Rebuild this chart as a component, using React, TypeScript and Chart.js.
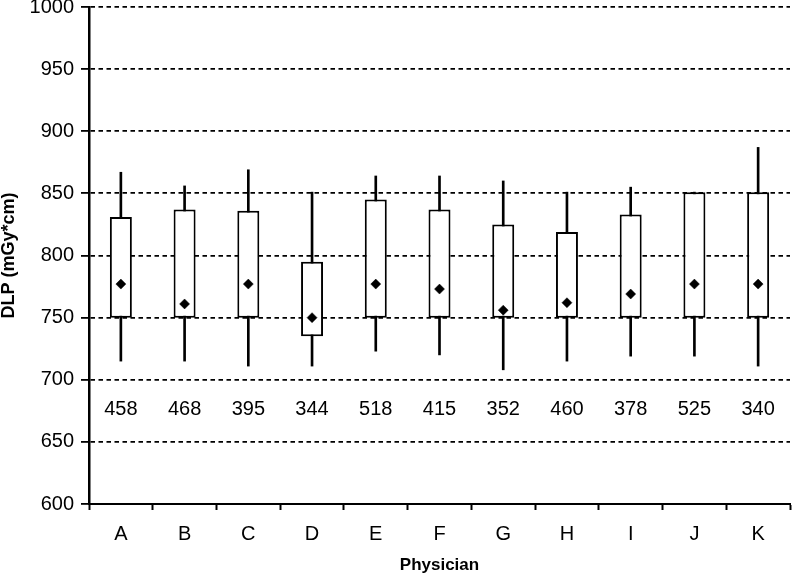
import { useEffect, useRef } from 'react'
import { Chart, registerables } from 'chart.js'

Chart.register(...registerables)

const physicians = ['A', 'B', 'C', 'D', 'E', 'F', 'G', 'H', 'I', 'J', 'K']
const whiskerLow = [715, 715, 711, 711, 723, 720, 708, 715, 719, 719, 711]
const boxLow = [750, 750, 750, 735, 750, 750, 750, 750, 750, 750, 750]
const boxHigh = [831, 837, 836, 795, 845, 837, 825, 819, 833, 851, 851]
const whiskerHigh = [867, 856, 869, 851, 864, 864, 860, 851, 855, 851, 887]
const means = [777, 761, 777, 750, 777, 773, 756, 762, 769, 777, 777]
const counts = [458, 468, 395, 344, 518, 415, 352, 460, 378, 525, 340]
const countLabelValue = 676

const FONT = "'Liberation Sans', Arial, sans-serif"

// writes the n under each box, at countLabelValue on the y scale
const countLabels = {
  id: 'countLabels',
  afterDatasetsDraw(chart: Chart) {
    const { ctx, scales } = chart
    const y = scales.y.getPixelForValue(countLabelValue)
    ctx.save()
    ctx.font = `20px ${FONT}`
    ctx.fillStyle = '#000'
    ctx.textAlign = 'center'
    ctx.textBaseline = 'middle'
    counts.forEach((n, i) => {
      ctx.fillText(String(n), scales.x.getPixelForValue(i), y)
    })
    ctx.restore()
  },
}

const BoxChart = () => {
  const canvasRef = useRef<HTMLCanvasElement | null>(null)

  useEffect(() => {
    document.body.style.margin = '0'
    if (!canvasRef.current) return

    const chart = new Chart(canvasRef.current, {
      type: 'bar',
      data: {
        labels: physicians,
        datasets: [
          {
            type: 'line',
            label: 'mean',
            data: means,
            showLine: false,
            pointStyle: 'rectRot',
            pointRadius: 5,
            pointBorderWidth: 0.5,
            pointBackgroundColor: '#000',
            pointBorderColor: '#000',
            order: 0,
          },
          {
            label: 'box',
            data: boxLow.map((lo, i) => [lo, boxHigh[i]]),
            backgroundColor: '#fff',
            borderColor: '#000',
            borderWidth: 2,
            borderSkipped: false,
            grouped: false,
            categoryPercentage: 1,
            barPercentage: 0.345,
            order: 1,
          },
          {
            label: 'range',
            data: whiskerLow.map((lo, i) => [lo, whiskerHigh[i]]),
            backgroundColor: '#000',
            borderWidth: 0,
            grouped: false,
            barThickness: 2,
            order: 2,
          },
        ] as any,
      },
      options: {
        animation: false,
        responsive: true,
        maintainAspectRatio: false,
        layout: {
          autoPadding: false,
          padding: { top: 7, right: 2, left: 0, bottom: 0 },
        },
        plugins: {
          legend: { display: false },
          tooltip: { enabled: false },
        },
        scales: {
          x: {
            offset: true,
            afterFit: (scale: any) => {
              scale.height = 73
              scale.paddingLeft = 0
              scale.paddingRight = 0
            },
            grid: {
              offset: true,
              drawOnChartArea: false,
              tickLength: 6,
              tickWidth: 2,
              tickColor: '#000',
            },
            border: { color: '#000', width: 2 },
            ticks: {
              color: '#000',
              padding: 12,
              font: { family: FONT, size: 20 },
            },
            title: {
              display: true,
              text: 'Physician',
              color: '#000',
              font: { family: FONT, size: 17, weight: 'bold', lineHeight: 1 },
              padding: { top: 0, bottom: 3 },
            },
          },
          y: {
            min: 600,
            max: 1000,
            afterFit: (scale: any) => {
              scale.width = 89
              scale.paddingTop = 0
              scale.paddingBottom = 0
            },
            grid: {
              color: (c: any) => (c.tick && c.tick.value === 600 ? 'rgba(0,0,0,0)' : '#000'),
              lineWidth: 1.8,
              tickLength: 8,
              tickWidth: 1.8,
              tickColor: '#000',
            },
            border: { color: '#000', width: 2.5, dash: [4.5, 3.5] },
            ticks: {
              stepSize: 50,
              color: '#000',
              padding: 7,
              font: { family: FONT, size: 20 },
              callback: (v: any) => String(v),
            },
            title: {
              display: true,
              text: 'DLP (mGy*cm)',
              color: '#000',
              font: { family: FONT, size: 18, weight: 'bold', lineHeight: 1 },
              padding: { top: 0, bottom: 0 },
            },
          },
        },
      },
      plugins: [countLabels],
    })

    return () => {
      chart.destroy()
    }
  }, [])

  return (
    <div style={{ position: 'relative', width: 792, height: 577 }}>
      <canvas ref={canvasRef} />
    </div>
  )
}

export default function App() {
  return <BoxChart />
}
